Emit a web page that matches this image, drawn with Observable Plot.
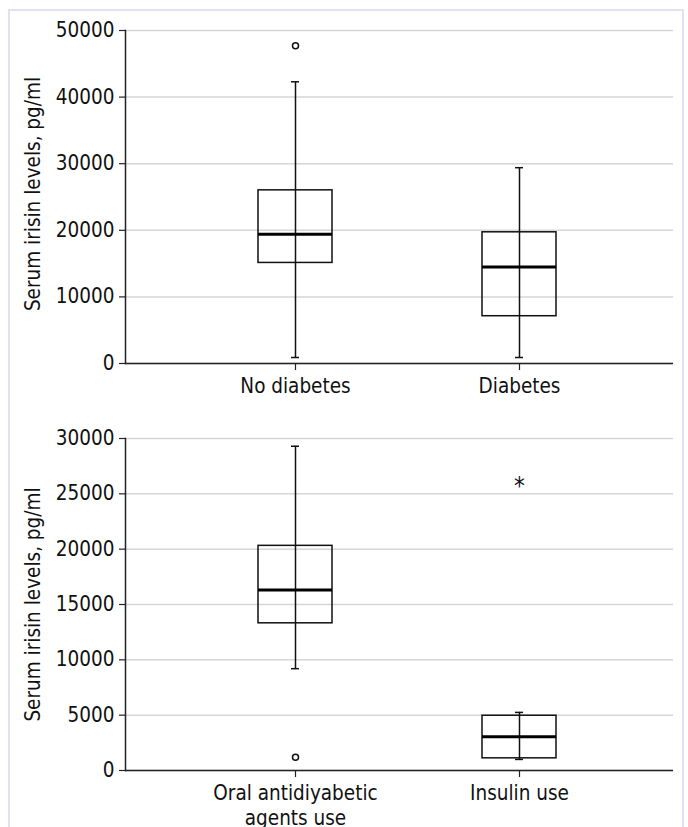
<!DOCTYPE html>
<html>
<head>
<meta charset="utf-8">
<script src="https://cdn.jsdelivr.net/npm/d3@7"></script>
<script src="https://cdn.jsdelivr.net/npm/@observablehq/plot@0.6"></script>
<style>
  body { margin: 0; background: #fff; }
  #wrap { position: relative; width: 688px; height: 827px; overflow: hidden; }
  #border { position: absolute; left: 8px; top: 9px; width: 676px; height: 840px; border: 2px solid #e0e0f2; box-sizing: border-box; }
  .panel { position: absolute; left: 0; }
</style>
</head>
<body>
<div id="wrap">
  <div id="border"></div>
  <div id="p1" class="panel" style="top:0px"></div>
  <div id="p2" class="panel" style="top:413px"></div>
</div>
<script>
// ---- Panel 1: diabetes status ----
const groups1 = ["No diabetes", "Diabetes"];
const low1    = [900, 900];
const q1_1    = [15100, 7100];
const median1 = [19400, 14500];
const q3_1    = [26000, 19700];
const high1   = [42300, 29400];
const outlierGroups1 = ["No diabetes"];
const outlierValues1 = [47700];
const ticks1 = [0, 10000, 20000, 30000, 40000, 50000];

// ---- Panel 2: treatment ----
const groups2 = ["Oral antidiyabetic\nagents use", "Insulin use"];
const low2    = [9200, 1000];
const q1_2    = [13300, 1100];
const median2 = [16300, 3050];
const q3_2    = [20300, 4950];
const high2   = [29300, 5250];
const outlierGroups2 = ["Oral antidiyabetic\nagents use"];
const outlierValues2 = [1200];
const extremeGroups2 = ["Insulin use"];
const extremeValues2 = [26000];
const ticks2 = [0, 5000, 10000, 15000, 20000, 25000, 30000];

const yLabel = "Serum irisin levels, pg/ml";
const FONT = "'DejaVu Sans Condensed', 'DejaVu Sans', sans-serif";
const FS = 20.5;

function panel({groups, low, q1, median, q3, high, outG, outV, extG = [], extV = [], ticks, domain, height, marginTop, marginBottom, labelDy}) {
  const boxes = groups.map((g, i) => ({g, low: low[i], q1: q1[i], med: median[i], q3: q3[i], high: high[i]}));
  const outliers = outG.map((g, i) => ({g, v: outV[i]}));
  const extremes = extG.map((g, i) => ({g, v: extV[i]}));
  return Plot.plot({
    width: 688,
    height,
    marginLeft: 125,
    marginRight: 15,
    marginTop,
    marginBottom,
    style: {fontFamily: FONT, fontSize: FS + "px", color: "#111", background: "transparent", overflow: "visible"},
    x: {type: "band", domain: groups, paddingInner: 0.67, paddingOuter: 0.558, align: 0.532},
    y: {domain, nice: false},
    marks: [
      Plot.gridY(ticks, {stroke: "#d6d6d6", strokeOpacity: 1, strokeWidth: 1.5}),
      Plot.axisY({ticks, tickFormat: d => String(d), tickSize: 6, tickPadding: 5, label: null, fontSize: FS, stroke: "#222", strokeWidth: 1.2}),
      Plot.axisX({tickSize: 7, tickPadding: 5, label: null, fontSize: FS, lineHeight: 1.22, stroke: "#222", strokeWidth: 1.2}),
      Plot.frame({anchor: "left", stroke: "#222", strokeWidth: 1.5}),
      Plot.ruleY([domain[0]], {stroke: "#222", strokeWidth: 1.5}),
      Plot.barY(boxes, {x: "g", y1: "q1", y2: "q3", fill: "none", stroke: "#111", strokeWidth: 1.5}),
      Plot.ruleX(boxes, {x: "g", y1: "low", y2: "high", stroke: "#111", strokeWidth: 1.5}),
      Plot.tickY(boxes, {x: "g", y: "low", inset: 33, stroke: "#111", strokeWidth: 1.5}),
      Plot.tickY(boxes, {x: "g", y: "high", inset: 33, stroke: "#111", strokeWidth: 1.5}),
      Plot.tickY(boxes, {x: "g", y: "med", stroke: "#000", strokeWidth: 3}),
      Plot.dot(outliers, {x: "g", y: "v", r: 3, fill: "white", stroke: "#111", strokeWidth: 1.5}),
      Plot.text(extremes, {x: "g", y: "v", text: () => "*", fontSize: 24, dy: 4, fill: "#111"}),
      Plot.text([yLabel], {frameAnchor: "left", textAnchor: "middle", dx: -92, dy: labelDy, rotate: -90, fontSize: FS, fill: "#111"})
    ]
  });
}

document.getElementById("p1").append(panel({
  groups: groups1, low: low1, q1: q1_1, median: median1, q3: q3_1, high: high1,
  outG: outlierGroups1, outV: outlierValues1, ticks: ticks1, domain: [0, 50000],
  height: 413, marginTop: 30, marginBottom: 50, labelDy: -3
}));
document.getElementById("p2").append(panel({
  groups: groups2, low: low2, q1: q1_2, median: median2, q3: q3_2, high: high2,
  outG: outlierGroups2, outV: outlierValues2, extG: extremeGroups2, extV: extremeValues2,
  ticks: ticks2, domain: [0, 30000],
  height: 414, marginTop: 25, marginBottom: 57, labelDy: 0
}));
</script>
</body>
</html>
